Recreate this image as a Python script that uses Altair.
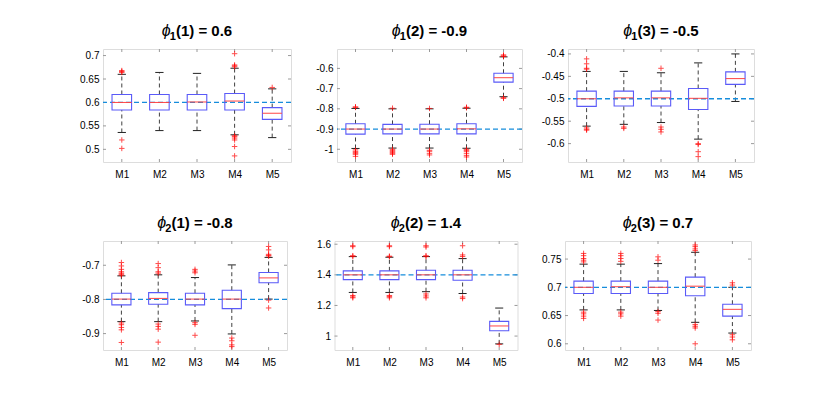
import altair as alt
import pandas as pd

# ---------------- data ----------------
METHODS = ["M1", "M2", "M3", "M4", "M5"]
POS = [1, 2, 3, 4, 5]

TITLE_SUBS = ["1", "1", "1", "2", "2", "2"]
TITLE_ARGS = ["(1) = 0.6", "(2) = -0.9", "(3) = -0.5",
              "(1) = -0.8", "(2) = 1.4", "(3) = 0.7"]
TRUE_VALUES = [0.6, -0.9, -0.5, -0.8, 1.4, 0.7]

Y_DOMAINS = [[0.473, 0.714], [-1.063, -0.504], [-0.641, -0.389],
             [-0.948, -0.629], [0.909, 1.621], [0.589, 0.782]]
Y_TICKS = [[0.5, 0.55, 0.6, 0.65, 0.7],
           [-1, -0.9, -0.8, -0.7, -0.6],
           [-0.6, -0.55, -0.5, -0.45, -0.4],
           [-0.9, -0.8, -0.7],
           [1, 1.2, 1.4, 1.6],
           [0.6, 0.65, 0.7, 0.75]]

# panel 1: phi_1(1)
P1_LOW = [0.536, 0.540, 0.540, 0.531, 0.525]
P1_Q1 = [0.584, 0.584, 0.584, 0.584, 0.564]
P1_MED = [0.600, 0.600, 0.601, 0.603, 0.577]
P1_Q3 = [0.617, 0.617, 0.617, 0.619, 0.589]
P1_HIGH = [0.660, 0.664, 0.662, 0.673, 0.629]
P1_OUT = [[0.664, 0.666, 0.668, 0.520, 0.502], [], [],
          [0.704, 0.680, 0.678, 0.676, 0.529, 0.527, 0.524, 0.520, 0.506, 0.486],
          [0.632]]

# panel 2: phi_1(2)
P2_LOW = [-0.996, -0.994, -0.994, -0.995, -0.740]
P2_Q1 = [-0.925, -0.924, -0.924, -0.924, -0.668]
P2_MED = [-0.900, -0.900, -0.900, -0.899, -0.646]
P2_Q3 = [-0.874, -0.877, -0.876, -0.874, -0.624]
P2_HIGH = [-0.798, -0.800, -0.800, -0.797, -0.543]
P2_OUT = [[-0.790, -0.793, -1.003, -1.010, -1.015, -1.020, -1.025, -1.035],
          [-0.797, -1.000, -1.005, -1.010, -1.015, -1.020, -1.025],
          [-0.798, -1.005, -1.010, -1.020, -1.028],
          [-0.792, -0.795, -1.000, -1.005, -1.010, -1.020, -1.030, -1.038],
          [-0.533, -0.538, -0.541, -0.745, -0.748]]

# panel 3: phi_1(3)
P3_LOW = [-0.561, -0.557, -0.553, -0.590, -0.506]
P3_Q1 = [-0.517, -0.516, -0.516, -0.524, -0.468]
P3_MED = [-0.500, -0.498, -0.498, -0.499, -0.455]
P3_Q3 = [-0.483, -0.483, -0.483, -0.477, -0.440]
P3_HIGH = [-0.439, -0.439, -0.442, -0.420, -0.400]
P3_OUT = [[-0.411, -0.422, -0.432, -0.434, -0.565, -0.568, -0.570],
          [-0.563, -0.566],
          [-0.432, -0.563, -0.568, -0.574],
          [-0.600, -0.602, -0.618, -0.629],
          []]

# panel 4: phi_2(1)
P4_LOW = [-0.865, -0.865, -0.863, -0.901, -0.799]
P4_Q1 = [-0.816, -0.814, -0.816, -0.827, -0.751]
P4_MED = [-0.799, -0.797, -0.799, -0.799, -0.737]
P4_Q3 = [-0.782, -0.780, -0.782, -0.773, -0.721]
P4_HIGH = [-0.731, -0.728, -0.736, -0.699, -0.677]
P4_OUT = [[-0.692, -0.702, -0.712, -0.719, -0.723, -0.726, -0.729,
           -0.869, -0.874, -0.882, -0.889, -0.926],
          [-0.695, -0.707, -0.719, -0.723, -0.872, -0.879, -0.887, -0.925],
          [-0.712, -0.717, -0.722, -0.868, -0.873, -0.905],
          [-0.913, -0.921, -0.933, -0.938],
          [-0.645, -0.655, -0.668, -0.671, -0.673, -0.802, -0.825]]

# panel 5: phi_2(2)
P5_LOW = [1.285, 1.285, 1.290, 1.278, 0.949]
P5_Q1 = [1.369, 1.369, 1.369, 1.365, 1.035]
P5_MED = [1.400, 1.400, 1.400, 1.400, 1.066]
P5_Q3 = [1.426, 1.426, 1.430, 1.430, 1.096]
P5_HIGH = [1.519, 1.515, 1.519, 1.506, 1.183]
P5_OUT = [[1.590, 1.584, 1.525, 1.520, 1.265, 1.256, 1.250],
          [1.590, 1.584, 1.522, 1.518, 1.265, 1.258, 1.250],
          [1.590, 1.582, 1.525, 1.520, 1.275, 1.262, 1.250],
          [1.590, 1.530, 1.520, 1.255, 1.245],
          [0.946]]

# panel 6: phi_2(3)
P6_LOW = [0.660, 0.660, 0.659, 0.638, 0.619]
P6_Q1 = [0.689, 0.689, 0.689, 0.685, 0.649]
P6_MED = [0.700, 0.701, 0.700, 0.702, 0.661]
P6_Q3 = [0.711, 0.711, 0.711, 0.718, 0.670]
P6_HIGH = [0.741, 0.741, 0.742, 0.762, 0.700]
P6_OUT = [[0.760, 0.756, 0.751, 0.748, 0.745, 0.656, 0.653, 0.649, 0.645],
          [0.760, 0.756, 0.751, 0.746, 0.656, 0.653, 0.649],
          [0.754, 0.748, 0.657, 0.654, 0.642],
          [0.775, 0.772, 0.768, 0.765, 0.634, 0.631, 0.628, 0.600],
          [0.708, 0.704, 0.616, 0.612, 0.607]]

PANELS = [
    (P1_LOW, P1_Q1, P1_MED, P1_Q3, P1_HIGH, P1_OUT),
    (P2_LOW, P2_Q1, P2_MED, P2_Q3, P2_HIGH, P2_OUT),
    (P3_LOW, P3_Q1, P3_MED, P3_Q3, P3_HIGH, P3_OUT),
    (P4_LOW, P4_Q1, P4_MED, P4_Q3, P4_HIGH, P4_OUT),
    (P5_LOW, P5_Q1, P5_MED, P5_Q3, P5_HIGH, P5_OUT),
    (P6_LOW, P6_Q1, P6_MED, P6_Q3, P6_HIGH, P6_OUT),
]

# ---------------- layout / style ----------------
WIDTHS = [188, 185, 186, 184, 183, 186]
HEIGHTS = [113, 113, 113, 109, 109, 109]
EXTENTS = [85, 40, 40, 88.7, 40, 40]
ROW1_SPACING = 46
ROW2_SPACING = 47.5
ROW_GAP = 34

FONT = "Liberation Sans"
FRAME = "#9a9a9a"
BOX_BLUE = "#5a5af8"
MED_RED = "#ff4545"
WHISK = "#404040"
REF_BLUE = "#168ddc"
OUT_RED = "#ff0000"
PLUS = "M-1,0L1,0M0,-1L0,1"
BOX_HALF = 0.26
CAP_HALF = 0.11
TICK_LEN = 3
LABEL_FS = 13

TITLE_FS = 15
SUB_FS = 11
PHI_FS = 16
PHI_ADV = 8.0
TITLE_Y = -13
SUB_DY = 4
BOLD_W = {"(": 0.333, ")": 0.333, " ": 0.278, "=": 0.584, ".": 0.278, "-": 0.333}


def text_width(s, fs):
    return sum(BOLD_W.get(c, 0.556) for c in s) * fs


def title_layers(i, W):
    rest = TITLE_ARGS[i]
    sub = TITLE_SUBS[i]
    sub_w = text_width(sub, SUB_FS)
    total = PHI_ADV + sub_w + text_width(rest, TITLE_FS)
    x0 = W / 2 - total / 2
    phi = alt.Chart(pd.DataFrame({"t": ["ϕ"]})).mark_text(
        align="left", baseline="alphabetic", font=FONT, fontSize=PHI_FS,
        fontStyle="italic", color="#000000").encode(
        text="t:N", x=alt.value(x0), y=alt.value(TITLE_Y))
    subt = alt.Chart(pd.DataFrame({"t": [sub]})).mark_text(
        align="left", baseline="alphabetic", font=FONT, fontSize=SUB_FS,
        fontWeight="bold", color="#000000").encode(
        text="t:N", x=alt.value(x0 + PHI_ADV), y=alt.value(TITLE_Y + SUB_DY))
    restt = alt.Chart(pd.DataFrame({"t": [rest]})).mark_text(
        align="left", baseline="alphabetic", font=FONT, fontSize=TITLE_FS,
        fontWeight="bold", color="#000000").encode(
        text="t:N", x=alt.value(x0 + PHI_ADV + sub_w), y=alt.value(TITLE_Y))
    return [phi, subt, restt]


def make_panel(i):
    low, q1, med, q3, high, out = PANELS[i]
    W, H, E = WIDTHS[i], HEIGHTS[i], EXTENTS[i]
    df = pd.DataFrame({"pos": POS, "method": METHODS, "low": low, "q1": q1,
                       "med": med, "q3": q3, "high": high})
    df["bl"] = df["pos"] - BOX_HALF
    df["br"] = df["pos"] + BOX_HALF
    df["cl"] = df["pos"] - CAP_HALF
    df["cr"] = df["pos"] + CAP_HALF
    out_df = pd.DataFrame([{"pos": p, "v": v} for p, vals in zip(POS, out) for v in vals])
    ref_df = pd.DataFrame({"v": [TRUE_VALUES[i]]})
    yt_df = pd.DataFrame({"v": Y_TICKS[i]})
    xt_df = pd.DataFrame({"pos": POS})

    xs = alt.Scale(domain=[0.5, 5.5], nice=False, zero=False)
    ys = alt.Scale(domain=Y_DOMAINS[i], nice=False, zero=False)
    xax = alt.Axis(values=POS, labelExpr="'M' + datum.value", ticks=False,
                   domain=False, grid=False, labelPadding=7, title=None)
    yax = alt.Axis(values=Y_TICKS[i], labelExpr="'' + datum.value", ticks=False,
                   domain=False, grid=False, labelPadding=4, title=None,
                   minExtent=E, maxExtent=E)

    def X(f):
        return alt.X(f, type="quantitative", scale=xs, axis=xax)

    def Y(f):
        return alt.Y(f, type="quantitative", scale=ys, axis=yax)

    base = alt.Chart(df)
    whisk_lo = base.mark_rule(color=WHISK, strokeDash=[4, 3], strokeWidth=1).encode(
        x=X("pos"), y=Y("low"), y2="q1")
    whisk_hi = base.mark_rule(color=WHISK, strokeDash=[4, 3], strokeWidth=1).encode(
        x=X("pos"), y=Y("q3"), y2="high")
    cap_lo = base.mark_rule(color="#222222", strokeWidth=1).encode(
        x=X("cl"), x2="cr", y=Y("low"))
    cap_hi = base.mark_rule(color="#222222", strokeWidth=1).encode(
        x=X("cl"), x2="cr", y=Y("high"))
    ref = alt.Chart(ref_df).mark_rule(color=REF_BLUE, strokeDash=[5, 3],
                                      strokeWidth=1.3).encode(y=Y("v"))
    box = base.mark_rect(fill="white", fillOpacity=0, stroke=BOX_BLUE,
                         strokeWidth=1.1).encode(x=X("bl"), x2="br", y=Y("q1"), y2="q3")
    median = base.mark_rule(color=MED_RED, strokeWidth=1).encode(
        x=X("bl"), x2="br", y=Y("med"))
    outl = alt.Chart(out_df).mark_point(shape=PLUS, size=30, filled=False,
                                        color=OUT_RED, strokeWidth=1,
                                        opacity=0.7).encode(x=X("pos"), y=Y("v"))
    ytl = alt.Chart(yt_df).mark_rule(color=FRAME).encode(
        y=Y("v"), x=alt.value(0), x2=alt.value(TICK_LEN))
    ytr = alt.Chart(yt_df).mark_rule(color=FRAME).encode(
        y=Y("v"), x=alt.value(W - TICK_LEN), x2=alt.value(W))
    xtb = alt.Chart(xt_df).mark_rule(color=FRAME).encode(
        x=X("pos"), y=alt.value(H - TICK_LEN), y2=alt.value(H))
    xtt = alt.Chart(xt_df).mark_rule(color=FRAME).encode(
        x=X("pos"), y=alt.value(0), y2=alt.value(TICK_LEN))

    layers = [ytl, ytr, xtb, xtt, whisk_lo, whisk_hi, cap_lo, cap_hi,
              ref, box, median, outl] + title_layers(i, W)
    return alt.layer(*layers).properties(width=W, height=H)


row1 = alt.hconcat(make_panel(0), make_panel(1), make_panel(2),
                   spacing=ROW1_SPACING, bounds="flush")
row2 = alt.hconcat(make_panel(3), make_panel(4), make_panel(5),
                   spacing=ROW2_SPACING, bounds="flush")

chart = alt.vconcat(row1, row2, spacing=ROW_GAP).properties(
    padding={"left": 5, "top": 14, "right": 5, "bottom": 5}
).configure_view(
    stroke=FRAME, strokeWidth=1
).configure_axis(
    labelFont=FONT, labelFontSize=LABEL_FS, labelColor="#262626"
).configure(background="white")

chart.save("out.html", embed_options={"renderer": "svg", "actions": False})
